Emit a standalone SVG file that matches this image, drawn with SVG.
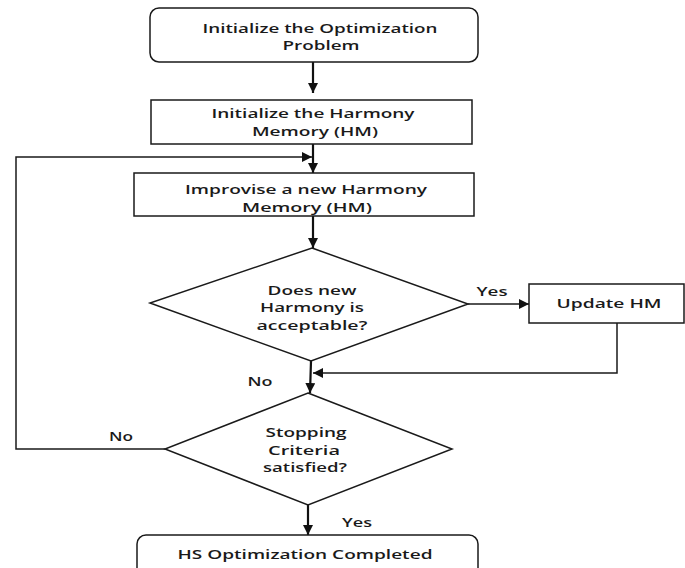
<svg xmlns="http://www.w3.org/2000/svg" width="685" height="568" viewBox="0 0 685 568">
<style>
.box{fill:#fff;stroke:#1a1a1a;stroke-width:1.5}
.t{font-family:"Open Sans","DejaVu Sans",sans-serif;font-weight:600;font-size:13px;fill:#1a1a1a;text-anchor:middle}
.c{fill:none;stroke:#1a1a1a;stroke-width:1.5}
.ct{fill:none;stroke:#111;stroke-width:2.2}
</style>
<defs>
<marker id="ah" viewBox="0 0 10 10" refX="10" refY="5" markerWidth="10" markerHeight="10" markerUnits="userSpaceOnUse" orient="auto">
<path d="M0,0 L10,5 L0,10 z" fill="#111"/>
</marker>
</defs>
<rect width="685" height="568" fill="#fff"/>
<g id="connectors">
<line class="ct" x1="313" y1="62" x2="313" y2="93" marker-end="url(#ah)"/>
<line class="ct" x1="313" y1="144" x2="313" y2="173" marker-end="url(#ah)"/>
<polyline class="c" points="165,449 16,449 16,157 312,157" marker-end="url(#ah)"/>
<line class="ct" x1="313" y1="216" x2="313" y2="248" marker-end="url(#ah)"/>
<line class="c" x1="468" y1="304" x2="529" y2="304" marker-end="url(#ah)"/>
<polyline class="c" points="617,323 617,373 313,373" marker-end="url(#ah)"/>
<line class="ct" x1="311" y1="361" x2="310" y2="393" marker-end="url(#ah)"/>
<line class="ct" x1="308" y1="505" x2="308" y2="535" marker-end="url(#ah)"/>
<text class="t" x="492" y="296" textLength="31" lengthAdjust="spacingAndGlyphs">Yes</text>
<text class="t" x="260" y="386" textLength="25" lengthAdjust="spacingAndGlyphs">No</text>
<text class="t" x="121" y="441" textLength="24" lengthAdjust="spacingAndGlyphs">No</text>
<text class="t" x="357" y="527" textLength="30" lengthAdjust="spacingAndGlyphs">Yes</text>
</g>
<g id="n1">
<rect class="box" x="150" y="8" width="328" height="54" rx="9"/>
<text class="t" x="320" y="33" textLength="235" lengthAdjust="spacingAndGlyphs">Initialize the Optimization</text>
<text class="t" x="321" y="50" textLength="77" lengthAdjust="spacingAndGlyphs">Problem</text>
</g>
<g id="n2">
<rect class="box" x="151" y="100" width="321" height="44"/>
<text class="t" x="313" y="118" textLength="203" lengthAdjust="spacingAndGlyphs">Initialize the Harmony</text>
<text class="t" x="315" y="136" textLength="126" lengthAdjust="spacingAndGlyphs">Memory (HM)</text>
</g>
<g id="n3">
<rect class="box" x="134" y="173" width="340" height="43"/>
<text class="t" x="306" y="194" textLength="242" lengthAdjust="spacingAndGlyphs">Improvise a new Harmony</text>
<text class="t" x="307" y="212" textLength="130" lengthAdjust="spacingAndGlyphs">Memory (HM)</text>
</g>
<g id="d1">
<polygon class="box" points="312,248 468,304 311,361 150,303"/>
<text class="t" x="312" y="295" textLength="89" lengthAdjust="spacingAndGlyphs">Does new</text>
<text class="t" x="312" y="312" textLength="104" lengthAdjust="spacingAndGlyphs">Harmony is</text>
<text class="t" x="312" y="330" textLength="111" lengthAdjust="spacingAndGlyphs">acceptable?</text>
</g>
<g id="n4">
<rect class="box" x="529" y="284" width="155" height="39"/>
<text class="t" x="609" y="308" textLength="105" lengthAdjust="spacingAndGlyphs">Update HM</text>
</g>
<g id="d2">
<polygon class="box" points="308,393 452,449 308,505 165,449"/>
<text class="t" x="306" y="437" textLength="81" lengthAdjust="spacingAndGlyphs">Stopping</text>
<text class="t" x="304" y="455" textLength="72" lengthAdjust="spacingAndGlyphs">Criteria</text>
<text class="t" x="305" y="472" textLength="84" lengthAdjust="spacingAndGlyphs">satisfied?</text>
</g>
<g id="n5">
<rect class="box" x="137" y="535" width="341" height="50" rx="9"/>
<text class="t" x="305" y="559" textLength="255" lengthAdjust="spacingAndGlyphs">HS Optimization Completed</text>
</g>
</svg>
